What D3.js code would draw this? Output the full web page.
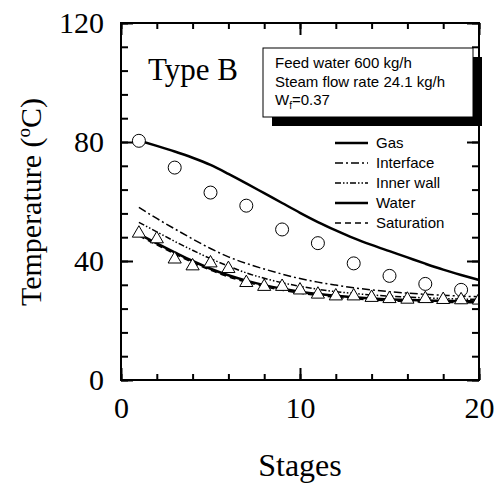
<html>
  <script src="https://d3js.org/d3.v7.min.js"></script>
  <style>
    body,
    html {
      margin: 0;
      padding: 0;
      background: white;
    }
    svg {
      display: block;
    }
  </style>
  <body>
    <svg id="chart" width="502" height="484"></svg>
    <script>
      // values
      const stages = [1, 2, 3, 4, 5, 6, 7, 8, 9, 10, 11, 12, 13, 14, 15, 16, 17, 18, 19, 20];
      const gasLine = [80.5, 78.7, 76.8, 74.7, 72.3, 69.3, 66.1, 62.8, 59.5, 56.2, 53.1, 50.3, 47.7, 45.4, 43.3, 41.2, 39.1, 37.1, 35.3, 33.6];
      const interfaceLine = [58, 54.3, 50.8, 47.4, 44.2, 41.4, 39.2, 37.3, 35.6, 34.1, 32.9, 31.9, 31, 30.3, 29.7, 29.2, 28.8, 28.5, 28.2, 28];
      const innerWallLine = [53, 49.8, 46.6, 43.6, 40.8, 38.3, 36, 34.2, 32.7, 31.5, 30.5, 29.7, 29.1, 28.6, 28.2, 27.9, 27.6, 27.4, 27.2, 27.1];
      const waterLine = [49, 45.9, 42.9, 40, 37.4, 35.2, 33.4, 31.9, 30.7, 29.7, 28.9, 28.3, 27.8, 27.4, 27.1, 26.9, 26.7, 26.6, 26.5, 26.4];
      const saturationLine = [48.5, 45.4, 42.4, 39.5, 36.9, 34.7, 32.9, 31.4, 30.2, 29.2, 28.4, 27.8, 27.3, 26.9, 26.6, 26.4, 26.2, 26.1, 26, 25.9];

      const gasStages = [1, 3, 5, 7, 9, 11, 13, 15, 17, 19];
      const gasMeasured = [80.4, 71.4, 63, 58.6, 50.6, 46, 39.2, 35, 32.3, 30.3];
      const waterMeasured = [49.3, 47.4, 40.6, 38.3, 39.3, 37.4, 32.7, 31.4, 31.4, 30.2, 28.8, 28.2, 28.2, 27.7, 27.3, 27.1, 27.3, 27, 26.9, 26.8];

      const xTicksMajor = [0, 10, 20];
      const yTicksMajor = [0, 40, 80, 120];
      const infoLines = ["Feed water 600 kg/h", "Steam flow rate 24.1 kg/h"];

      const serif = "Liberation Serif, Times New Roman, serif";
      const sans = "Liberation Sans, Arial, sans-serif";

      const plotLeft = 121, plotRight = 479, plotTop = 23, plotBottom = 380;
      const svg = d3.select("#chart");

      const x = d3.scaleLinear().domain([0, 20]).range([plotLeft, plotRight]);
      const y = d3.scaleLinear().domain([0, 120]).range([plotBottom, plotTop]);

      svg.append("clipPath").attr("id", "plot-clip")
        .append("rect")
        .attr("x", plotLeft).attr("y", plotTop)
        .attr("width", plotRight - plotLeft).attr("height", plotBottom - plotTop);

      // ticks on all four sides, pointing inward
      const styleAxis = (g) => {
        g.select(".domain").remove();
        g.selectAll("line").attr("stroke", "black").attr("stroke-width", 2);
        g.selectAll("text").attr("font-family", serif).attr("font-size", 30).attr("fill", "black");
      };
      const xMinor = d3.range(0, 21, 2);
      const yMinor = d3.range(0, 121, 8);

      svg.append("g").attr("transform", `translate(0,${plotBottom})`)
        .call(d3.axisBottom(x).tickValues(xMinor).tickSize(-6).tickFormat("")).call(styleAxis);
      svg.append("g").attr("transform", `translate(0,${plotBottom})`)
        .call(d3.axisBottom(x).tickValues(xTicksMajor).tickSize(-12).tickPadding(17).tickFormat(d3.format("d")))
        .call(styleAxis);
      svg.append("g").attr("transform", `translate(0,${plotTop})`)
        .call(d3.axisTop(x).tickValues(xMinor).tickSize(-6).tickFormat("")).call(styleAxis);
      svg.append("g").attr("transform", `translate(0,${plotTop})`)
        .call(d3.axisTop(x).tickValues(xTicksMajor).tickSize(-12).tickFormat("")).call(styleAxis);

      svg.append("g").attr("transform", `translate(${plotLeft},0)`)
        .call(d3.axisLeft(y).tickValues(yMinor).tickSize(-7).tickFormat("")).call(styleAxis);
      svg.append("g").attr("transform", `translate(${plotLeft},0)`)
        .call(d3.axisLeft(y).tickValues(yTicksMajor).tickSize(-12).tickPadding(17).tickFormat(d3.format("d")))
        .call(styleAxis);
      svg.append("g").attr("transform", `translate(${plotRight},0)`)
        .call(d3.axisRight(y).tickValues(yMinor).tickSize(-7).tickFormat("")).call(styleAxis);
      svg.append("g").attr("transform", `translate(${plotRight},0)`)
        .call(d3.axisRight(y).tickValues(yTicksMajor).tickSize(-12).tickFormat("")).call(styleAxis);

      // curves
      const line = d3.line()
        .x((d) => x(d[0]))
        .y((d) => y(d[1]))
        .curve(d3.curveMonotoneX);

      const series = [
        { name: "Gas", values: gasLine, width: 2.5, dash: null },
        { name: "Interface", values: interfaceLine, width: 1.5, dash: "8,3,2,3" },
        { name: "Inner wall", values: innerWallLine, width: 1.5, dash: "6,2,1.5,2,1.5,2" },
        { name: "Water", values: waterLine, width: 2.5, dash: null },
        { name: "Saturation", values: saturationLine, width: 1.5, dash: "6,4" },
      ];

      const plot = svg.append("g").attr("clip-path", "url(#plot-clip)");

      plot.selectAll("path.curve")
        .data(series)
        .enter()
        .append("path")
        .attr("class", "curve")
        .attr("d", (s) => line(stages.map((st, i) => [st, s.values[i]])))
        .attr("fill", "none")
        .attr("stroke", "black")
        .attr("stroke-width", (s) => s.width)
        .attr("stroke-dasharray", (s) => s.dash);

      // measured points
      plot.selectAll("circle")
        .data(gasStages.map((st, i) => [st, gasMeasured[i]]))
        .enter()
        .append("circle")
        .attr("cx", (d) => x(d[0]))
        .attr("cy", (d) => y(d[1]))
        .attr("r", 6.5)
        .attr("fill", "white")
        .attr("stroke", "black")
        .attr("stroke-width", 1);

      const tri = d3.symbol().type(d3.symbolTriangle).size(75);
      plot.selectAll("path.tri")
        .data(stages.map((st, i) => [st, waterMeasured[i]]))
        .enter()
        .append("path")
        .attr("class", "tri")
        .attr("d", tri)
        .attr("transform", (d) => `translate(${x(d[0])},${y(d[1])})`)
        .attr("fill", "white")
        .attr("stroke", "black")
        .attr("stroke-width", 1);

      // frame
      svg.append("rect")
        .attr("x", plotLeft).attr("y", plotTop)
        .attr("width", plotRight - plotLeft).attr("height", plotBottom - plotTop)
        .attr("fill", "none").attr("stroke", "black").attr("stroke-width", 2);

      // legend
      const legend = svg.append("g").attr("transform", "translate(335,143)");
      const rows = legend.selectAll("g")
        .data(series)
        .enter()
        .append("g")
        .attr("transform", (d, i) => `translate(0,${i * 20})`);
      rows.append("line")
        .attr("x1", 0).attr("x2", 33)
        .attr("stroke", "black")
        .attr("stroke-width", (s) => s.width)
        .attr("stroke-dasharray", (s) => s.dash);
      rows.append("text")
        .attr("x", 41)
        .attr("dy", "0.35em")
        .attr("font-family", sans)
        .attr("font-size", 15)
        .text((s) => s.name);

      // info box with shadow
      svg.append("rect")
        .attr("x", 272).attr("y", 57).attr("width", 210).attr("height", 69)
        .attr("fill", "black");
      svg.append("rect")
        .attr("x", 263).attr("y", 48).attr("width", 210).attr("height", 69)
        .attr("fill", "white").attr("stroke", "black").attr("stroke-width", 1);
      const info = svg.append("text")
        .attr("font-family", sans)
        .attr("font-size", 15);
      infoLines.forEach((t, i) => {
        info.append("tspan").attr("x", 275).attr("y", 68 + i * 18.5).text(t);
      });
      info.append("tspan").attr("x", 275).attr("y", 105).text("W");
      info.append("tspan").attr("font-size", 10).attr("dy", 4).text("f");
      info.append("tspan").attr("dy", -4).text("=0.37");

      svg.append("text")
        .attr("x", 148).attr("y", 80)
        .attr("font-family", serif)
        .attr("font-size", 31)
        .text("Type B");

      // axis titles
      svg.append("text")
        .attr("x", 300).attr("y", 476)
        .attr("text-anchor", "middle")
        .attr("font-family", serif)
        .attr("font-size", 32)
        .text("Stages");

      const yTitle = svg.append("text")
        .attr("transform", "translate(41,202) rotate(-90)")
        .attr("text-anchor", "middle")
        .attr("font-family", serif)
        .attr("font-size", 30);
      yTitle.append("tspan").text("Temperature (");
      yTitle.append("tspan").attr("font-size", 19).attr("dy", -11).text("o");
      yTitle.append("tspan").attr("dy", 11).text("C)");
    </script>
  </body>
</html>
